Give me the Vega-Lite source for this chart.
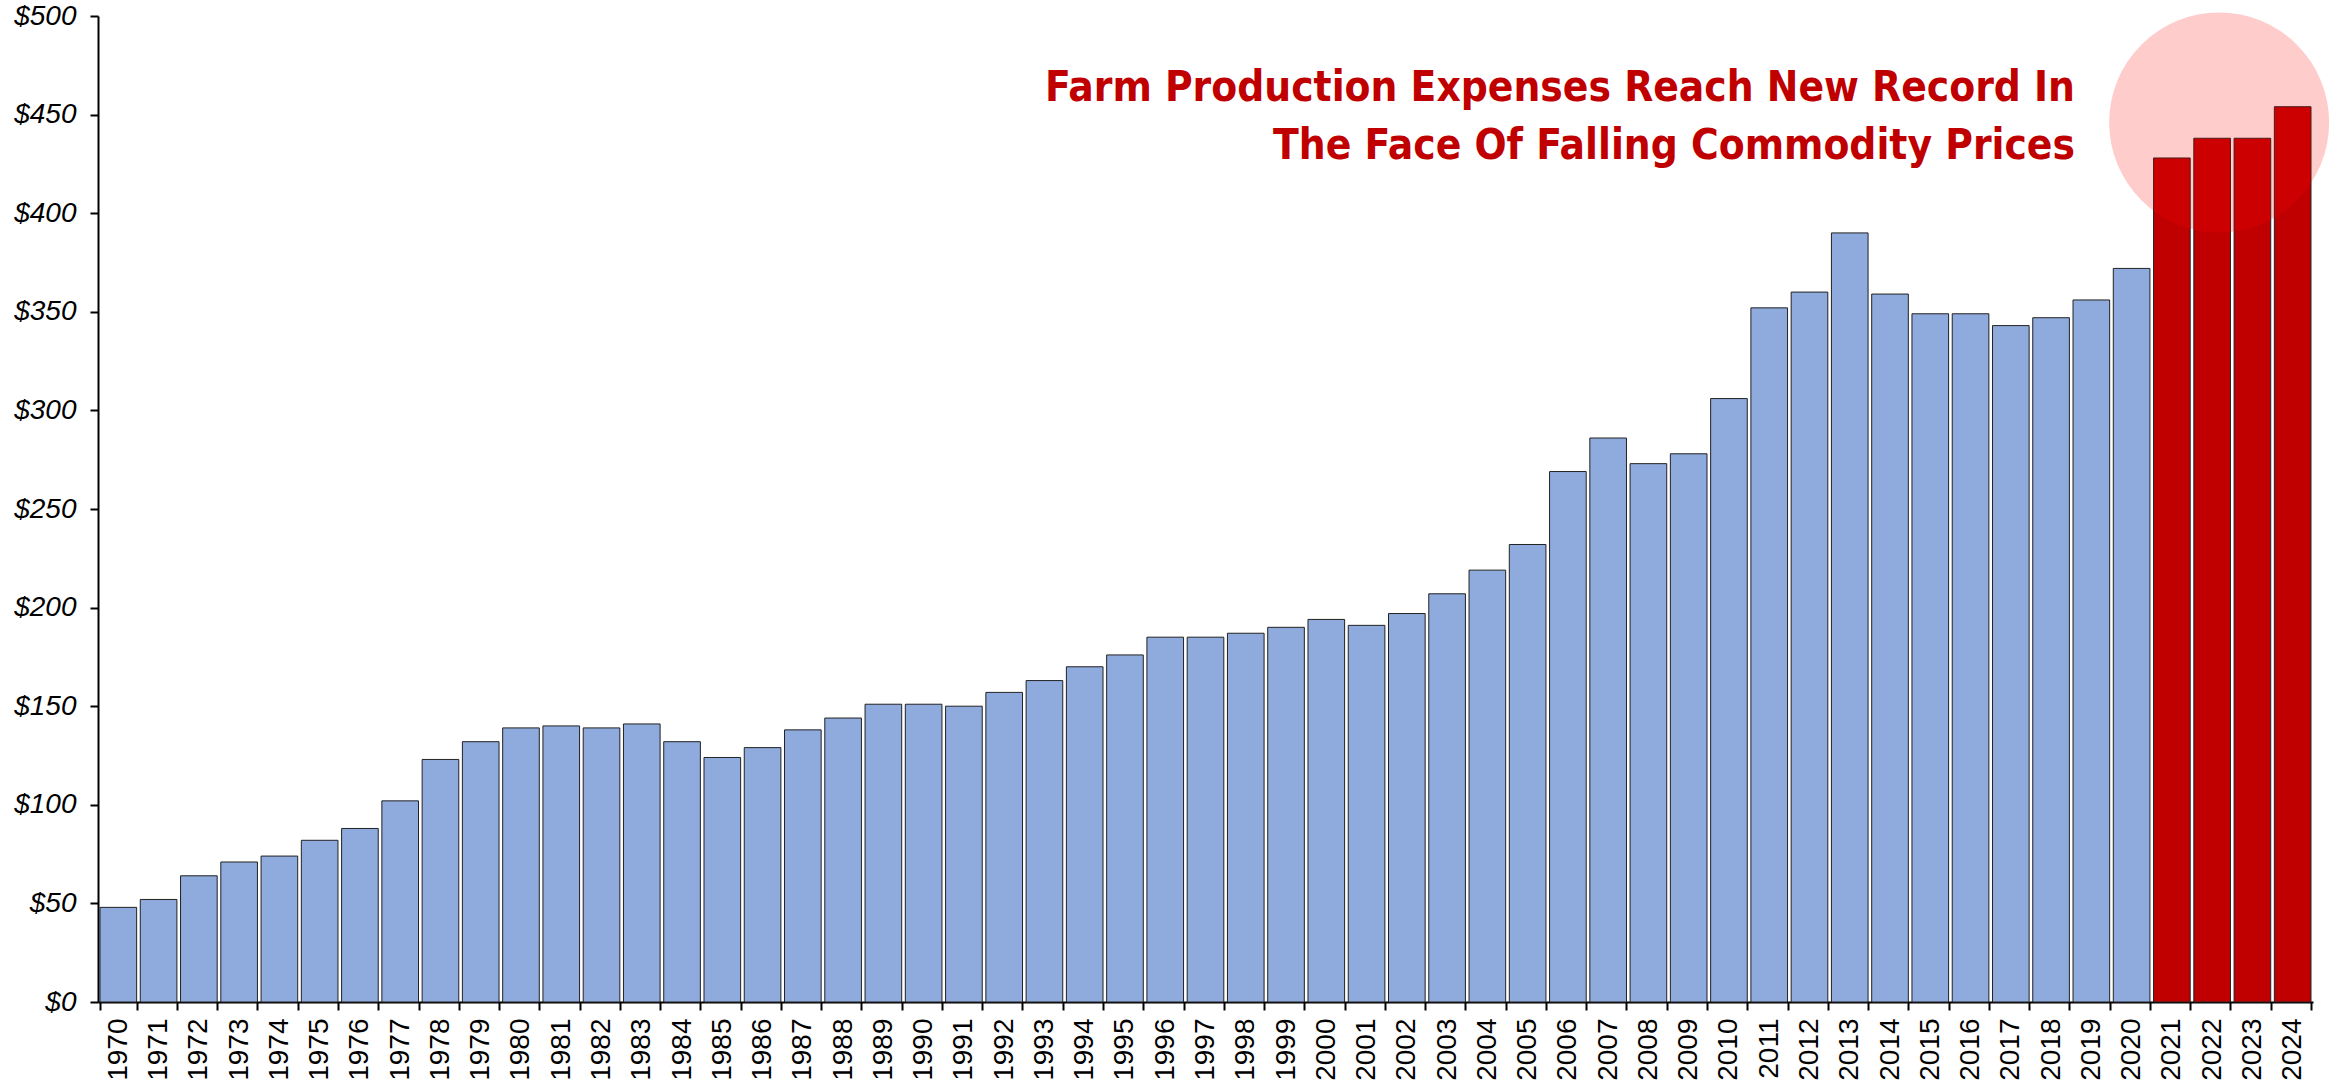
{
  "$schema": "https://vega.github.io/schema/vega-lite/v6.json",
  "width": 2215,
  "height": 986,
  "autosize": "none",
  "padding": {"left": 98, "top": 16, "right": 23, "bottom": 83},
  "background": "white",
  "config": {"view": {"stroke": null}},
  "title": {
    "text": ["Farm Production Expenses Reach New Record In", "The Face Of Falling Commodity Prices"],
    "anchor": "end",
    "frame": "group",
    "orient": "top",
    "align": "right",
    "offset": -166,
    "dx": -238,
    "lineHeight": 58,
    "font": "DejaVu Sans Condensed, Liberation Sans",
    "fontWeight": "bold",
    "fontSize": 42,
    "color": "#C00000"
  },
  "datasets": {
    "expenses": [
      {"year": "1970", "value": 48},
      {"year": "1971", "value": 52},
      {"year": "1972", "value": 64},
      {"year": "1973", "value": 71},
      {"year": "1974", "value": 74},
      {"year": "1975", "value": 82},
      {"year": "1976", "value": 88},
      {"year": "1977", "value": 102},
      {"year": "1978", "value": 123},
      {"year": "1979", "value": 132},
      {"year": "1980", "value": 139},
      {"year": "1981", "value": 140},
      {"year": "1982", "value": 139},
      {"year": "1983", "value": 141},
      {"year": "1984", "value": 132},
      {"year": "1985", "value": 124},
      {"year": "1986", "value": 129},
      {"year": "1987", "value": 138},
      {"year": "1988", "value": 144},
      {"year": "1989", "value": 151},
      {"year": "1990", "value": 151},
      {"year": "1991", "value": 150},
      {"year": "1992", "value": 157},
      {"year": "1993", "value": 163},
      {"year": "1994", "value": 170},
      {"year": "1995", "value": 176},
      {"year": "1996", "value": 185},
      {"year": "1997", "value": 185},
      {"year": "1998", "value": 187},
      {"year": "1999", "value": 190},
      {"year": "2000", "value": 194},
      {"year": "2001", "value": 191},
      {"year": "2002", "value": 197},
      {"year": "2003", "value": 207},
      {"year": "2004", "value": 219},
      {"year": "2005", "value": 232},
      {"year": "2006", "value": 269},
      {"year": "2007", "value": 286},
      {"year": "2008", "value": 273},
      {"year": "2009", "value": 278},
      {"year": "2010", "value": 306},
      {"year": "2011", "value": 352},
      {"year": "2012", "value": 360},
      {"year": "2013", "value": 390},
      {"year": "2014", "value": 359},
      {"year": "2015", "value": 349},
      {"year": "2016", "value": 349},
      {"year": "2017", "value": 343},
      {"year": "2018", "value": 347},
      {"year": "2019", "value": 356},
      {"year": "2020", "value": 372},
      {"year": "2021", "value": 428},
      {"year": "2022", "value": 438},
      {"year": "2023", "value": 438},
      {"year": "2024", "value": 454}
    ],
    "highlight": [
      {"year": "2022", "value": 446}
    ]
  },
  "layer": [
    {
      "data": {"name": "expenses"},
      "mark": {"type": "bar", "stroke": "#222222", "strokeWidth": 1},
      "encoding": {
        "x": {
          "field": "year",
          "type": "ordinal",
          "sort": null,
          "title": null,
          "scale": {"paddingInner": 0.09, "paddingOuter": 0.05},
          "axis": {
            "labelAngle": -90,
            "labelFont": "Liberation Sans",
            "labelFontSize": 28,
            "labelColor": "#000000",
            "labelPadding": 8,
            "tickBand": "extent",
            "tickSize": 8,
            "tickWidth": 2,
            "tickColor": "#000000",
            "domainColor": "#000000",
            "domainWidth": 2,
            "grid": false
          }
        },
        "y": {
          "field": "value",
          "type": "quantitative",
          "title": null,
          "scale": {"domain": [0, 500], "nice": false},
          "axis": {
            "values": [0, 50, 100, 150, 200, 250, 300, 350, 400, 450, 500],
            "labelExpr": "'$' + datum.value",
            "labelFont": "Liberation Sans",
            "labelFontStyle": "italic",
            "labelFontSize": 28,
            "labelColor": "#000000",
            "labelPadding": 14,
            "tickSize": 8,
            "tickWidth": 2,
            "tickColor": "#000000",
            "domainColor": "#000000",
            "domainWidth": 2,
            "grid": false
          }
        },
        "color": {
          "condition": {"test": "toNumber(datum.year) >= 2021", "value": "#C00000"},
          "value": "#8FAADC"
        }
      }
    },
    {
      "data": {"name": "highlight"},
      "mark": {"type": "point", "shape": "circle", "filled": true, "size": 48400, "color": "#FF0000", "opacity": 0.2, "xOffset": 7},
      "encoding": {
        "x": {"field": "year", "type": "ordinal", "sort": null},
        "y": {"field": "value", "type": "quantitative"}
      }
    }
  ]
}
